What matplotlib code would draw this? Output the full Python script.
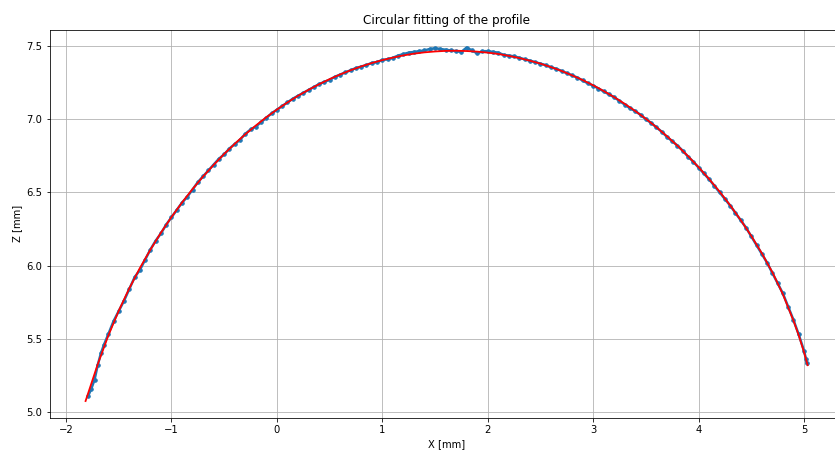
import numpy as np
import matplotlib
matplotlib.use("Agg")
import matplotlib.pyplot as plt

x_meas = [-1.79, -1.76, -1.73, -1.70, -1.67, -1.64, -1.60, -1.55, -1.50, -1.45,
          -1.40, -1.35, -1.30, -1.25, -1.20, -1.15, -1.10, -1.05, -1.00, -0.95,
          -0.90, -0.85, -0.80, -0.75, -0.70, -0.65, -0.60, -0.55, -0.50, -0.45,
          -0.40, -0.35, -0.30, -0.25, -0.20, -0.15, -0.10, -0.05, 0.00, 0.05,
          0.10, 0.15, 0.20, 0.25, 0.30, 0.35, 0.40, 0.45, 0.50, 0.55,
          0.60, 0.65, 0.70, 0.75, 0.80, 0.85, 0.90, 0.95, 1.00, 1.05,
          1.10, 1.15, 1.20, 1.25, 1.30, 1.35, 1.40, 1.45, 1.50, 1.55,
          1.60, 1.65, 1.70, 1.75, 1.80, 1.85, 1.90, 1.95, 2.00, 2.05,
          2.10, 2.15, 2.20, 2.25, 2.30, 2.35, 2.40, 2.45, 2.50, 2.55,
          2.60, 2.65, 2.70, 2.75, 2.80, 2.85, 2.90, 2.95, 3.00, 3.05,
          3.10, 3.15, 3.20, 3.25, 3.30, 3.35, 3.40, 3.45, 3.50, 3.55,
          3.60, 3.65, 3.70, 3.75, 3.80, 3.85, 3.90, 3.95, 4.00, 4.05,
          4.10, 4.15, 4.20, 4.25, 4.30, 4.35, 4.40, 4.45, 4.50, 4.55,
          4.60, 4.65, 4.70, 4.75, 4.80, 4.85, 4.90, 4.95, 5.00, 5.02,
          5.025]
z_meas = [5.11, 5.16, 5.22, 5.32, 5.40, 5.46, 5.53, 5.62, 5.69, 5.76,
          5.84, 5.92, 5.97, 6.04, 6.11, 6.17, 6.22, 6.28, 6.33, 6.38,
          6.43, 6.47, 6.52, 6.57, 6.61, 6.65, 6.69, 6.73, 6.76, 6.80,
          6.83, 6.86, 6.90, 6.93, 6.95, 6.98, 7.01, 7.04, 7.065, 7.09,
          7.115, 7.14, 7.16, 7.18, 7.20, 7.22, 7.24, 7.255, 7.27, 7.29,
          7.305, 7.32, 7.335, 7.35, 7.36, 7.37, 7.385, 7.39, 7.405, 7.41,
          7.42, 7.435, 7.445, 7.455, 7.46, 7.465, 7.47, 7.48, 7.485, 7.48,
          7.475, 7.47, 7.465, 7.46, 7.49, 7.47, 7.45, 7.465, 7.465, 7.46,
          7.455, 7.44, 7.435, 7.43, 7.42, 7.41, 7.40, 7.39, 7.38, 7.37,
          7.355, 7.345, 7.33, 7.315, 7.30, 7.285, 7.265, 7.245, 7.23, 7.21,
          7.19, 7.17, 7.15, 7.125, 7.10, 7.075, 7.055, 7.03, 7.00, 6.975,
          6.945, 6.915, 6.88, 6.85, 6.82, 6.785, 6.745, 6.71, 6.67, 6.63,
          6.59, 6.545, 6.50, 6.455, 6.41, 6.36, 6.31, 6.26, 6.20, 6.14,
          6.08, 6.02, 5.95, 5.88, 5.81, 5.72, 5.63, 5.53, 5.42, 5.36,
          5.335]

# fitted circle, sampled
x_fit = [-1.815, -1.70, -1.60, -1.50, -1.40, -1.30, -1.20, -1.10, -1.00, -0.90,
         -0.80, -0.70, -0.60, -0.50, -0.40, -0.30, -0.20, -0.10, 0.00, 0.10,
         0.20, 0.30, 0.40, 0.50, 0.60, 0.70, 0.80, 0.90, 1.00, 1.10,
         1.20, 1.30, 1.40, 1.50, 1.60, 1.70, 1.80, 1.90, 2.00, 2.10,
         2.20, 2.30, 2.40, 2.50, 2.60, 2.70, 2.80, 2.90, 3.00, 3.10,
         3.20, 3.30, 3.40, 3.50, 3.60, 3.70, 3.80, 3.90, 4.00, 4.10,
         4.20, 4.30, 4.40, 4.50, 4.60, 4.70, 4.80, 4.90, 4.95, 5.00,
         5.035]
z_fit = [5.075, 5.325, 5.521, 5.692, 5.845, 5.983, 6.109, 6.225, 6.332, 6.431,
         6.523, 6.609, 6.688, 6.763, 6.832, 6.897, 6.957, 7.014, 7.066, 7.115,
         7.160, 7.201, 7.239, 7.274, 7.306, 7.335, 7.361, 7.384, 7.404, 7.421,
         7.436, 7.448, 7.457, 7.463, 7.467, 7.468, 7.466, 7.462, 7.455, 7.446,
         7.433, 7.418, 7.400, 7.380, 7.356, 7.330, 7.300, 7.268, 7.232, 7.193,
         7.151, 7.105, 7.056, 7.003, 6.946, 6.884, 6.819, 6.748, 6.673, 6.592,
         6.505, 6.412, 6.311, 6.203, 6.085, 5.955, 5.805, 5.625, 5.525, 5.41,
         5.32]

fig = plt.figure(figsize=(835 / 72, 450 / 72), dpi=72)
ax = fig.add_axes([0.0593, 0.0711, 0.9515, 0.8633])

ax.plot(x_meas, z_meas, "o-", color="#1f77b4", markersize=3.5, linewidth=2.5)
ax.plot(x_fit, z_fit, color="red", linewidth=1.8)

ax.set_xlim(-2.157, 5.38)
ax.set_ylim(4.959, 7.613)
ax.set_xlabel("X [mm]")
ax.set_ylabel("Z [mm]")
ax.set_title("Circular fitting of the profile")
ax.grid(True)

fig.savefig("out.png", dpi=72)
